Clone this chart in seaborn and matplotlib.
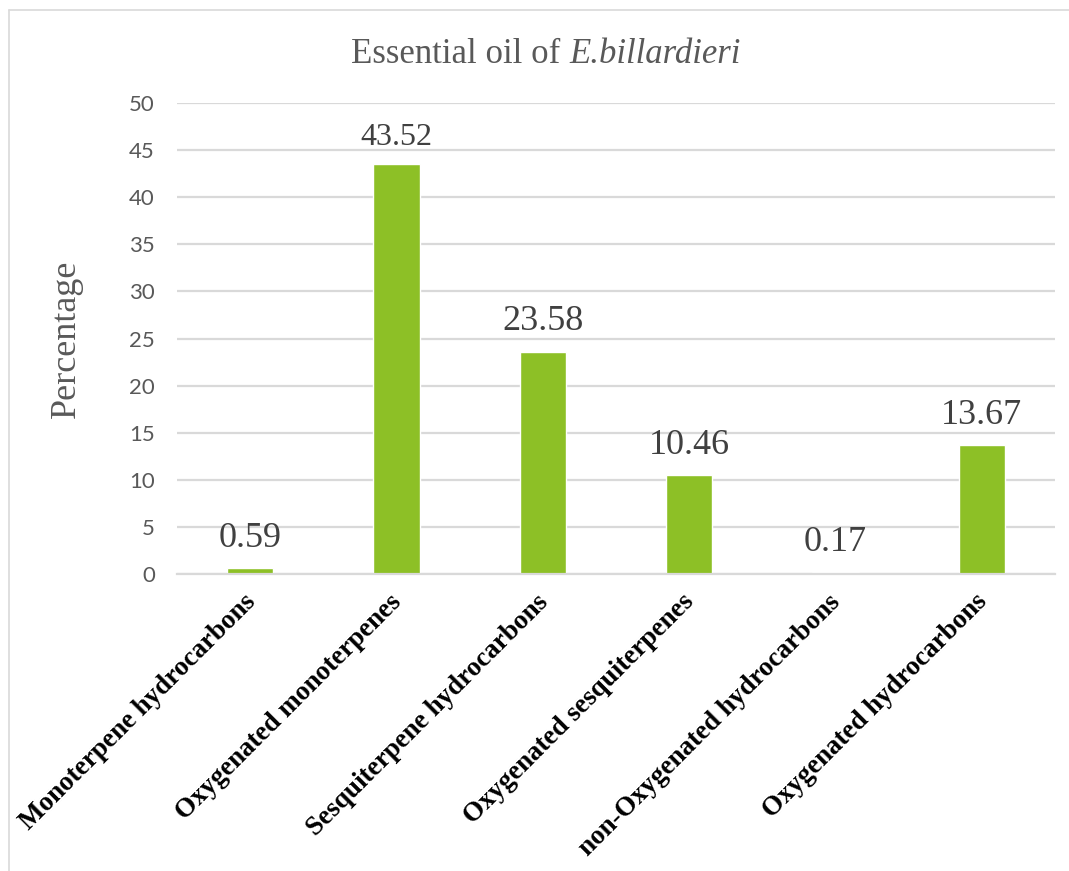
import matplotlib
matplotlib.use("Agg")
import matplotlib.pyplot as plt
import matplotlib.transforms as mtransforms
from matplotlib.lines import Line2D
import pandas as pd
import seaborn as sns

# chart data
categories = [
    "Monoterpene hydrocarbons",
    "Oxygenated monoterpenes",
    "Sesquiterpene hydrocarbons",
    "Oxygenated sesquiterpenes",
    "non-Oxygenated hydrocarbons",
    "Oxygenated hydrocarbons",
]
percentages = [0.59, 43.52, 23.58, 10.46, 0.17, 13.67]
y_ticks = [0, 5, 10, 15, 20, 25, 30, 35, 40, 45, 50]

# value label font sizes (the 43.52 label is set smaller in the original)
label_sizes = [26, 23, 26, 26, 26, 26]

BAR_COLOR = "#8DC026"
GRID_COLOR = "#D9D9D9"
TEXT_GRAY = "#595959"
LABEL_DARK = "#404040"
SERIF = ["Liberation Serif", "DejaVu Serif"]

sns.set_theme(style="white")
plt.rcParams["font.family"] = ["Liberation Serif", "DejaVu Sans"]

df = pd.DataFrame({"category": categories, "percentage": percentages})

fig = plt.figure(figsize=(10.69, 8.71), dpi=100)
ax = fig.add_axes([0.1656, 0.341, 0.8213, 0.5407])

sns.barplot(
    data=df,
    x="category",
    y="percentage",
    color=BAR_COLOR,
    saturation=1,
    width=0.315,
    ax=ax,
)

ax.set_xlim(-0.5, len(categories) - 0.5)
ax.set_ylim(0, 50)
ax.set_yticks(y_ticks)
ax.set_yticklabels([str(t) for t in y_ticks], family=["Lato", "DejaVu Sans"],
                   fontsize=16, color=TEXT_GRAY)

ax.grid(axis="y", color=GRID_COLOR, linewidth=1.6)
ax.set_axisbelow(True)
for side in ["top", "right", "left"]:
    ax.spines[side].set_visible(False)
ax.spines["bottom"].set_color(GRID_COLOR)
ax.spines["bottom"].set_linewidth(1.6)
ax.tick_params(axis="both", length=0)
ax.tick_params(axis="y", pad=16)

# rotated category labels
ax.set_xticks(range(len(categories)))
ax.set_xticklabels(categories, rotation=45, ha="right", va="center",
                   rotation_mode="anchor", fontsize=19.5, fontweight="bold",
                   family=SERIF, color="black")
offset = mtransforms.ScaledTranslation(1 / 72, -14 / 72, fig.dpi_scale_trans)
for lbl in ax.get_xticklabels():
    lbl.set_transform(lbl.get_transform() + offset)

ax.set_xlabel("")
ax.set_ylabel("Percentage", fontsize=26, color=TEXT_GRAY, family=SERIF)
ax.yaxis.set_label_coords(-0.107, 0.5)

# value labels on top of bars
for i, (v, fs) in enumerate(zip(percentages, label_sizes)):
    ax.annotate(f"{v:.2f}", (i, v), xytext=(0, 0.6 * fs),
                textcoords="offset points", ha="center", va="baseline",
                fontsize=fs, color=LABEL_DARK, family=SERIF)

# title with italic species name
title_y = 1 - 63 / 871
t1 = fig.text(0.0, title_y, "Essential oil of ", fontsize=25, color=TEXT_GRAY,
              family=SERIF, ha="left", va="baseline")
t2 = fig.text(0.0, title_y, "E.billardieri", fontsize=25, color=TEXT_GRAY,
              family=SERIF, style="italic", ha="left", va="baseline")
renderer = fig.canvas.get_renderer()
w1 = t1.get_window_extent(renderer).width
w2 = t2.get_window_extent(renderer).width
fig_w = fig.get_figwidth() * fig.dpi
x0 = 546 - (w1 + w2) / 2
t1.set_x(x0 / fig_w)
t2.set_x((x0 + w1) / fig_w)

# chart-area border (top and left edges only visible)
fig.add_artist(Line2D([9 / 1069, 9 / 1069], [0, 1 - 10 / 871],
                      transform=fig.transFigure, color=GRID_COLOR, linewidth=1.2))
fig.add_artist(Line2D([9 / 1069, 1], [1 - 10 / 871, 1 - 10 / 871],
                      transform=fig.transFigure, color=GRID_COLOR, linewidth=1.2))

fig.savefig("out.png", dpi=100, facecolor="white")
